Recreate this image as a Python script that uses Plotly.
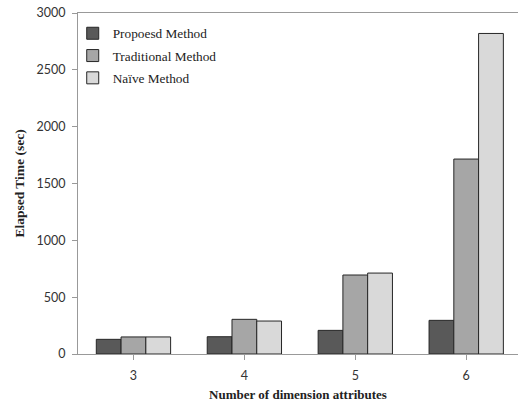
import plotly.graph_objects as go

categories = ["3", "4", "5", "6"]
proposed = [129, 152, 208, 296]
traditional = [150, 305, 695, 1715]
naive = [150, 290, 712, 2820]
series_names = ["Propoesd Method", "Traditional Method", "Naïve Method"]
colors = ["#595959", "#A6A6A6", "#D9D9D9"]
y_ticks = [0, 500, 1000, 1500, 2000, 2500, 3000]

fig = go.Figure()
for i, (name, vals) in enumerate(zip(series_names, [proposed, traditional, naive])):
    fig.add_trace(go.Bar(
        x=categories, y=vals, name=name, legendgroup=f"g{i}",
        marker=dict(color=colors[i], line=dict(color="#262626", width=1)),
    ))

serif = "Liberation Serif"
fig.update_layout(
    width=518, height=402,
    margin=dict(l=78, r=0, t=13, b=48, autoexpand=False),
    paper_bgcolor="white", plot_bgcolor="white",
    barmode="group", bargap=0.33, bargroupgap=0,
    showlegend=True,
    legend=dict(x=-0.012, y=0.985, xanchor="left", yanchor="top",
                font=dict(family=serif, size=13.3, color="#222"),
                bgcolor="rgba(0,0,0,0)", itemwidth=30, tracegroupgap=2),
    font=dict(family="Lato", color="#222"),
)
fig.update_xaxes(
    type="category", range=[-0.5, 3.467], automargin=False,
    showline=True, linecolor="#999", linewidth=1, mirror=True,
    ticks="outside", ticklen=5, tickcolor="#999", ticklabelstandoff=5,
    tickfont=dict(family="Lato", size=12.5, color="#333"),
    title=dict(text="<b>Number of dimension attributes</b>",
               font=dict(family=serif, size=13, color="#222"), standoff=8),
    showgrid=False,
)
fig.update_yaxes(
    range=[0, 3000], tickvals=y_ticks, automargin=False,
    showline=True, linecolor="#999", linewidth=1,
    ticks="outside", ticklen=5, tickcolor="#999", ticklabelstandoff=4,
    tickfont=dict(family="Lato", size=12.5, color="#333"),
    title=dict(text="<b>Elapsed Time (sec)</b>",
               font=dict(family=serif, size=13.5, color="#222"), standoff=8),
    showgrid=False, zeroline=False,
)
fig.write_html("out.html", config={"displayModeBar": False},
               post_script="document.body.style.margin='0';document.body.style.overflow='hidden';")
